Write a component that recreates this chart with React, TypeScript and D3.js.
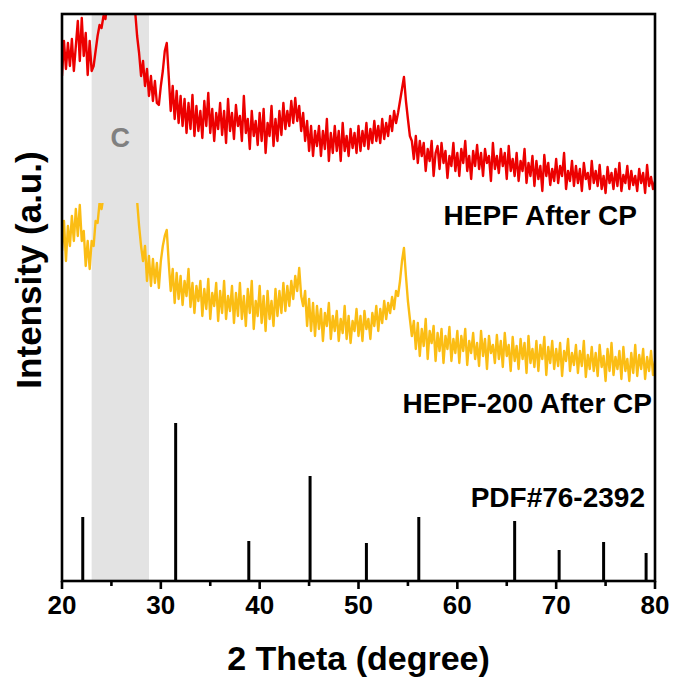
import React from "react";
import * as d3 from "d3";

// Sampling grid of the two measured patterns (2θ, degrees)
const THETA_START = 20;
const THETA_STEP = 0.2;

// HEPF After CP (a.u.), one value every 0.2°, 20° → 80°
const redCounts = [
  505, 540, 512, 538, 515, 542, 510, 535, 560, 520,
  563, 525, 548, 506, 540, 510, 515, 530, 545, 556,
  553, 565, 562, 585, 600, 620, 640, 660, 685, 710,
  740, 770, 790, 780, 740, 690, 630, 570, 545, 528,
  505, 520, 495, 512, 485, 505, 480, 500, 478, 476,
  495, 510, 530, 538, 505, 470, 495, 462, 490, 458,
  485, 455, 482, 448, 478, 452, 486, 445, 475, 450,
  470, 443, 480, 455, 488, 448, 472, 440, 468, 452,
  478, 446, 470, 438, 482, 450, 468, 442, 476, 455,
  465, 440, 485, 448, 462, 432, 470, 445, 460, 436,
  468, 440, 472, 428, 458, 445, 475, 435, 462, 440,
  470, 446, 478, 452, 470, 455, 480, 458, 483, 460,
  475, 450, 468, 440, 460, 430, 455, 425, 450, 435,
  455, 425, 450, 432, 462, 420, 448, 428, 455, 430,
  450, 420, 458, 430, 445, 425, 452, 433, 448, 428,
  455, 430, 450, 435, 458, 432, 452, 438, 460, 440,
  455, 438, 462, 442, 458, 445, 465, 450, 470, 458,
  468, 480, 492, 504, 480, 462, 445, 440, 422, 445,
  418, 440, 425, 438, 410, 432, 420, 440, 405, 428,
  435, 412, 438, 418, 430, 403, 425, 415, 438, 410,
  428, 405, 432, 418, 440, 410, 425, 402, 430, 415,
  436, 412, 428, 405, 432, 418, 425, 400, 438, 412,
  425, 408, 432, 415, 428, 402, 435, 410, 422, 405,
  428, 400, 420, 410, 432, 398, 418, 405, 425, 395,
  420, 402, 415, 390, 426, 405, 418, 396, 412, 400,
  422, 398, 415, 405, 428, 392, 410, 400, 420, 395,
  415, 398, 412, 390, 418, 402, 408, 392, 420, 398,
  410, 395, 416, 392, 405, 388, 414, 398, 408, 392,
  412, 395, 418, 390, 406, 398, 415, 392, 410, 396,
  405, 390, 412, 398, 408, 388, 416, 395, 404, 392,
  400,
];

// HEPF-200 After CP (a.u.), one value every 0.2°, 20° → 80°
const yellowCounts = [
  330, 360, 320, 355, 335, 365, 340, 372, 345, 376,
  340, 350, 315, 340, 312, 340, 335, 360, 358, 378,
  372, 385, 380, 400, 420, 440, 460, 480, 500, 520,
  540, 560, 575, 570, 540, 500, 460, 420, 380, 355,
  335, 320, 335, 300, 325, 295, 322, 298, 318, 293,
  320, 335, 345, 351, 318, 290, 312, 278, 308, 282,
  305, 276, 300, 285, 312, 274, 298, 268, 295, 280,
  300, 265, 292, 272, 302, 262, 288, 275, 298, 260,
  290, 268, 300, 262, 285, 270, 295, 258, 288, 265,
  298, 262, 285, 255, 292, 268, 300, 252, 280, 265,
  295, 258, 285, 250, 290, 262, 280, 255, 292, 265,
  290, 268, 298, 270, 295, 275, 300, 282, 305, 290,
  313, 285, 275, 290, 255, 282, 250, 278, 245, 275,
  252, 272, 240, 268, 255, 278, 242, 265, 250, 270,
  240, 262, 248, 275, 242, 265, 238, 260, 250, 272,
  245, 265, 240, 270, 252, 262, 242, 268, 255, 275,
  250, 272, 258, 280, 262, 278, 268, 284, 272, 290,
  285, 300, 320, 333, 305, 280, 262, 245, 260, 232,
  258, 225, 252, 235, 262, 222, 250, 238, 255, 220,
  248, 230, 252, 218, 245, 232, 254, 220, 242, 228,
  250, 218, 245, 230, 252, 216, 240, 228, 248, 222,
  238, 215, 250, 225, 242, 212, 245, 228, 236, 218,
  246, 222, 240, 214, 248, 225, 236, 210, 244, 220,
  235, 212, 242, 222, 238, 208, 245, 218, 232, 214,
  240, 210, 236, 222, 244, 206, 234, 218, 240, 212,
  232, 215, 238, 205, 230, 220, 242, 210, 228, 216,
  236, 208, 230, 215, 240, 204, 226, 212, 234, 210,
  228, 205, 236, 214, 225, 200, 232, 210, 238, 206,
  224, 212, 230, 202, 234, 210, 222, 200, 228, 208,
  236, 205, 226, 212, 232, 202, 224, 210, 230, 206,
  220,
];

// Yellow pattern is cut above this intensity in the figure
const yellowCap = 378;

// Standard card PDF#76-2392
const pdfPositions = [22.1, 31.5, 38.9, 45.1, 50.8, 56.1, 65.8, 70.3, 74.8, 79.1];
const pdfIntensities = [64, 158, 40, 105, 38, 64, 60, 31, 39, 28];

// Shaded carbon region
const carbonRange = [23, 28.8];

const xMajorTicks = [20, 30, 40, 50, 60, 70, 80];
const xMinorTicks = [25, 35, 45, 55, 65, 75];

const seriesLabels = ["HEPF After CP", "HEPF-200 After CP", "PDF#76-2392"];

const W = 676;
const H = 684;
const M = { left: 62, right: 655, top: 14, bottom: 581 };
const FONT = "'Liberation Sans', Arial, Helvetica, sans-serif";

export default function App() {
  const x = d3.scaleLinear().domain([20, 80]).range([M.left, M.right]);
  const y = d3.scaleLinear().domain([0, 567]).range([M.bottom, M.top]);

  const toPts = (arr: number[]) =>
    arr.map((v, i) => [THETA_START + i * THETA_STEP, v] as [number, number]);

  const line = d3
    .line<[number, number]>()
    .x((d) => x(d[0]))
    .y((d) => y(d[1]));

  const redPath = line(toPts(redCounts)) || "";
  const yellowPath = line(toPts(yellowCounts)) || "";

  return (
    <svg
      width={W}
      height={H}
      style={{ position: "absolute", left: 0, top: 0, background: "#fff" }}
      fontFamily={FONT}
    >
      <defs>
        <clipPath id="plotClip">
          <rect x={M.left} y={M.top} width={M.right - M.left} height={M.bottom - M.top} />
        </clipPath>
        <clipPath id="yellowClip">
          <rect
            x={M.left}
            y={y(yellowCap)}
            width={M.right - M.left}
            height={M.bottom - y(yellowCap)}
          />
        </clipPath>
      </defs>

      {/* carbon band */}
      <rect
        x={x(carbonRange[0])}
        y={M.top}
        width={x(carbonRange[1]) - x(carbonRange[0])}
        height={M.bottom - M.top}
        fill="#e3e3e3"
      />
      <text
        x={x((carbonRange[0] + carbonRange[1]) / 2)}
        y={147}
        textAnchor="middle"
        fontSize={27}
        fontWeight="bold"
        fill="#808080"
      >
        C
      </text>

      <g clipPath="url(#plotClip)">
        <path d={redPath} fill="none" stroke="#ec0000" strokeWidth={2.4} strokeLinejoin="round" />
      </g>
      <g clipPath="url(#yellowClip)">
        <path d={yellowPath} fill="none" stroke="#fbbd14" strokeWidth={2.4} strokeLinejoin="round" />
      </g>

      {/* reference sticks */}
      {pdfPositions.map((p, i) => (
        <line
          key={i}
          x1={x(p)}
          x2={x(p)}
          y1={y(0)}
          y2={y(pdfIntensities[i])}
          stroke="#000"
          strokeWidth={3}
        />
      ))}

      {/* frame */}
      <rect
        x={M.left}
        y={M.top}
        width={M.right - M.left}
        height={M.bottom - M.top}
        fill="none"
        stroke="#000"
        strokeWidth={2.6}
      />

      {/* x ticks */}
      {xMajorTicks.map((t) => (
        <g key={"M" + t}>
          <line x1={x(t)} x2={x(t)} y1={M.bottom} y2={M.bottom + 8} stroke="#000" strokeWidth={2.6} />
          <text x={x(t)} y={614} textAnchor="middle" fontSize={26} fontWeight="bold" fill="#000">
            {t}
          </text>
        </g>
      ))}
      {xMinorTicks.map((t) => (
        <line key={"m" + t} x1={x(t)} x2={x(t)} y1={M.bottom} y2={M.bottom + 5} stroke="#000" strokeWidth={2.6} />
      ))}

      {/* axis titles */}
      <text x={(M.left + M.right) / 2} y={670} textAnchor="middle" fontSize={34} fontWeight="bold" fill="#000">
        2 Theta (degree)
      </text>
      <text
        transform={`translate(41, 270) rotate(-90)`}
        textAnchor="middle"
        fontSize={35}
        fontWeight="bold"
        fill="#000"
      >
        Intensity (a.u.)
      </text>

      {/* series labels */}
      <text x={637} y={225} textAnchor="end" fontSize={28} fontWeight="bold" fill="#000">
        {seriesLabels[0]}
      </text>
      <text x={652} y={413} textAnchor="end" fontSize={28} fontWeight="bold" fill="#000">
        {seriesLabels[1]}
      </text>
      <text x={645} y={507} textAnchor="end" fontSize={28} fontWeight="bold" fill="#000">
        {seriesLabels[2]}
      </text>
    </svg>
  );
}
